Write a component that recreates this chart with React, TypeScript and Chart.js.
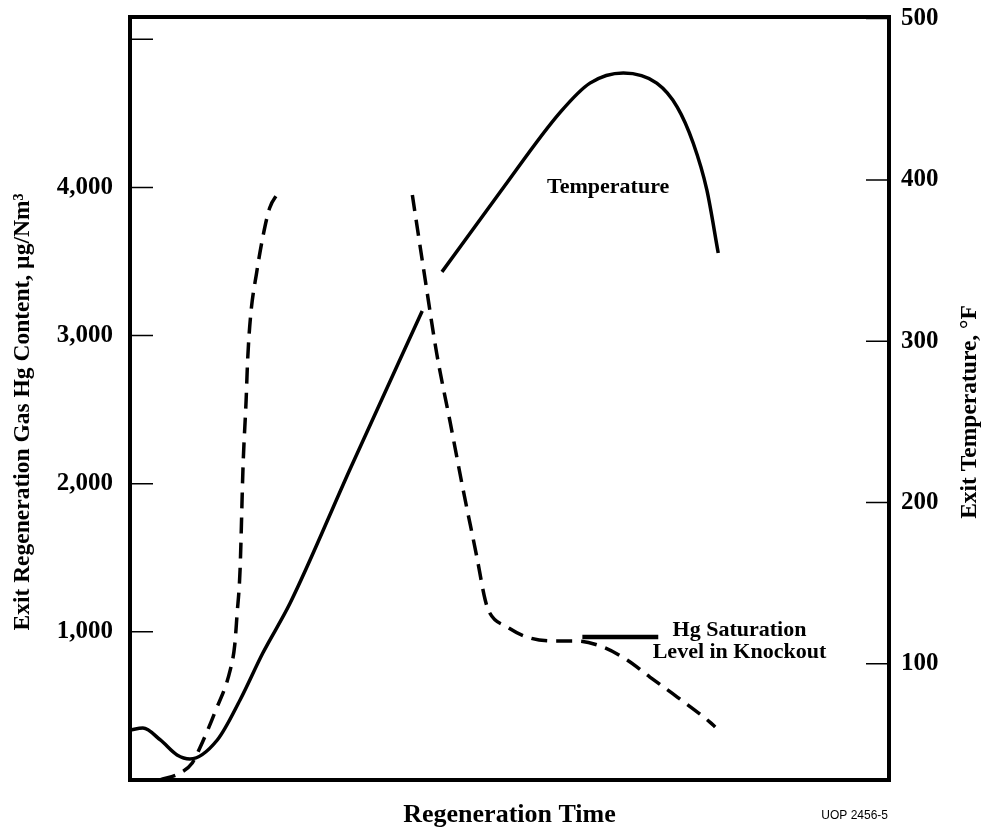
import React, { useEffect, useRef } from 'react';
import { Chart, registerables } from 'chart.js';

Chart.register(...registerables);

// Regeneration time (arbitrary units 0-100) and exit temperature (°F)
const tempTime1 = [0, 1.7, 4.0, 6.2, 7.9, 11.5, 14.5, 17.5, 21.1, 29.0, 38.5];
const tempValue1 = [59, 60.2, 52.8, 43.5, 41, 52.8, 77.6, 106.7, 137.7, 220.8, 318.8];
const tempTime2 = [41.1, 48.7, 56.7, 60.6, 65.0, 69.4, 72.1, 74.2, 76.0, 77.5];
const tempValue2 = [343, 392, 442, 460, 466.3, 460, 445.2, 422.9, 393.8, 354.7];

// Exit regeneration gas Hg content (µg/Nm³)
const hgTime1 = [3.95, 6.6, 8.2, 9.2, 11.2, 13.2, 13.8, 14.1, 14.5, 14.9, 15.3, 15.5, 15.9, 16.7, 17.5, 18.4, 19.5];
const hgValue1 = [0, 47, 115, 216, 459, 742, 911, 1114, 1417, 2126, 2565, 2835, 3138, 3429, 3665, 3861, 3962];
const hgTime2 = [37.2, 38.9, 40.4, 42.2, 43.9, 45.7, 46.8, 47.4, 49.7, 52.3, 55.7, 58.9, 62.3, 65.5, 68.5, 72.1, 76.4, 77.1];
const hgValue2 = [3948, 3375, 2882, 2410, 1957, 1505, 1215, 1127, 1033, 965, 938, 938, 898, 810, 695, 560, 391, 358];

// Hg saturation level in knockout
const satTime = [59.6, 69.6];
const satValue = [965, 965];

// Axis ticks
const leftTickValues = [1000, 2000, 3000, 4000, 5000];
const leftTickLabels = ['1,000', '2,000', '3,000', '4,000', ''];
const rightTickValues = [100, 200, 300, 400, 500];
const rightTickLabels = ['100', '200', '300', '400', '500'];

const SERIF = "'Liberation Serif', 'Times New Roman', serif";

const pts = (xs: number[], ys: number[]) => xs.map((x, i) => ({ x, y: ys[i] }));

const decorPlugin = {
  id: 'decor',
  afterDraw(chart: any) {
    const { ctx, chartArea: a, scales } = chart;
    const yL = scales.y;
    const yR = scales.y1;
    const x = scales.x;
    ctx.save();
    // inner tick marks
    ctx.strokeStyle = '#000';
    ctx.lineWidth = 1.5;
    ctx.beginPath();
    for (const v of leftTickValues) {
      const py = yL.getPixelForValue(v);
      ctx.moveTo(a.left, py);
      ctx.lineTo(a.left + 23, py);
    }
    for (const v of rightTickValues) {
      const py = yR.getPixelForValue(v);
      ctx.moveTo(a.right - 23, py);
      ctx.lineTo(a.right, py);
    }
    ctx.stroke();
    // frame
    ctx.lineWidth = 4;
    ctx.strokeRect(a.left, a.top, a.right - a.left, a.bottom - a.top);

    // annotations
    ctx.fillStyle = '#000';
    ctx.font = `bold 22px ${SERIF}`;
    ctx.textAlign = 'center';
    ctx.textBaseline = 'alphabetic';
    ctx.fillText('Temperature', x.getPixelForValue(63.0), yR.getPixelForValue(392));
    ctx.fillText('Hg Saturation', x.getPixelForValue(80.3), yL.getPixelForValue(972));
    ctx.fillText('Level in Knockout', x.getPixelForValue(80.3), yL.getPixelForValue(823));

    // axis titles (both read bottom to top)
    const midY = 412;
    ctx.font = `bold 23.5px ${SERIF}`;
    ctx.textBaseline = 'middle';
    ctx.textAlign = 'center';
    ctx.save();
    ctx.translate(23, midY);
    ctx.rotate(-Math.PI / 2);
    ctx.fillText('Exit Regeneration Gas Hg Content, \u00B5g/Nm\u00B3', 0, 0);
    ctx.restore();
    ctx.save();
    ctx.translate(970, midY);
    ctx.rotate(-Math.PI / 2);
    ctx.fillText('Exit Temperature, \u00B0F', 0, 0);
    ctx.restore();

    // figure id
    ctx.font = "12px 'Liberation Sans', Arial, sans-serif";
    ctx.textAlign = 'right';
    ctx.textBaseline = 'middle';
    ctx.fillText('UOP 2456-5', 888, 816);
    ctx.restore();
  },
};

export default function App() {
  const ref = useRef<HTMLCanvasElement | null>(null);

  useEffect(() => {
    document.body.style.margin = '0';
    const canvas = ref.current;
    if (!canvas) return;
    Chart.defaults.font.family = SERIF;
    Chart.defaults.color = '#000';

    const solid = {
      borderColor: '#000',
      borderWidth: 3.5,
      pointRadius: 0,
      fill: false,
      cubicInterpolationMode: 'monotone' as const,
    };

    const chart = new Chart(canvas, {
      type: 'line',
      data: {
        datasets: [
          { ...solid, label: 'Temperature', data: pts(tempTime1, tempValue1), yAxisID: 'y1' },
          { ...solid, label: 'Temperature', data: pts(tempTime2, tempValue2), yAxisID: 'y1' },
          { ...solid, label: 'Hg Content', data: pts(hgTime1, hgValue1), yAxisID: 'y', borderDash: [16, 9] },
          { ...solid, label: 'Hg Content', data: pts(hgTime2, hgValue2), yAxisID: 'y', borderDash: [16, 9] },
          { ...solid, label: 'Hg Saturation Level in Knockout', data: pts(satTime, satValue), yAxisID: 'y', borderWidth: 4.5, cubicInterpolationMode: 'default' as const },
        ],
      },
      options: {
        responsive: false,
        animation: false,
        devicePixelRatio: 1,
        layout: { padding: { top: 17, left: 0, right: 0, bottom: 0 } },
        plugins: { legend: { display: false }, tooltip: { enabled: false } },
        events: [],
        scales: {
          x: {
            type: 'linear',
            min: 0,
            max: 100,
            grid: { display: false, drawTicks: false },
            border: { display: false },
            ticks: { display: false },
            title: {
              display: true,
              text: 'Regeneration Time',
              font: { size: 26, weight: 'bold', family: SERIF, lineHeight: 1 },
              padding: { top: 0, bottom: 0 },
              color: '#000',
            },
            afterFit: (s: any) => {
              s.height = 48;
              s.paddingLeft = 0;
              s.paddingRight = 0;
            },
          },
          y: {
            type: 'linear',
            position: 'left',
            min: 0,
            max: 5150,
            grid: { display: false, drawTicks: false },
            border: { display: false },
            afterBuildTicks: (s: any) => {
              s.ticks = leftTickValues.map((v) => ({ value: v }));
            },
            ticks: {
              padding: 17,
              font: { size: 25, weight: 'bold', family: SERIF },
              color: '#000',
              callback: (v: any) => {
                const i = leftTickValues.indexOf(Number(v));
                return i >= 0 ? leftTickLabels[i] : '';
              },
            },
            title: { display: false },
            afterFit: (s: any) => {
              s.width = 130;
              s.paddingTop = 0;
              s.paddingBottom = 0;
            },
          },
          y1: {
            type: 'linear',
            position: 'right',
            min: 28,
            max: 501,
            grid: { display: false, drawTicks: false },
            border: { display: false },
            afterBuildTicks: (s: any) => {
              s.ticks = rightTickValues.map((v) => ({ value: v }));
            },
            ticks: {
              padding: 12,
              font: { size: 25, weight: 'bold', family: SERIF },
              color: '#000',
              callback: (v: any) => {
                const i = rightTickValues.indexOf(Number(v));
                return i >= 0 ? rightTickLabels[i] : '';
              },
            },
            title: { display: false },
            afterFit: (s: any) => {
              s.width = 96;
              s.paddingTop = 0;
              s.paddingBottom = 0;
            },
          },
        },
      },
      plugins: [decorPlugin],
    } as any);

    return () => chart.destroy();
  }, []);

  return (
    <div style={{ position: 'absolute', left: 0, top: 0, width: 985, height: 828, background: '#fff' }}>
      <canvas ref={ref} width={985} height={828} />
    </div>
  );
}
